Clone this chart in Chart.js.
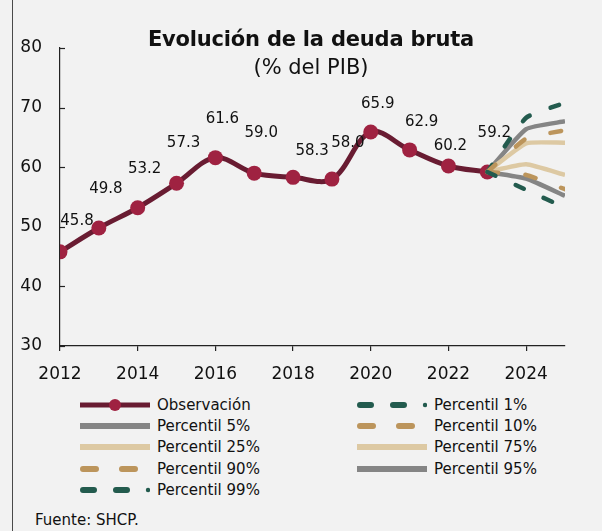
<!DOCTYPE html>
<html lang="es">
<head>
<meta charset="utf-8">
<script src="https://cdn.jsdelivr.net/npm/chart.js@4.4.1/dist/chart.umd.min.js"></script>
<style>
	body { margin: 0; background: #f2f2f2; }
	#wrap { position: relative; width: 602px; height: 531px; overflow: hidden; font-family: 'DejaVu Sans', sans-serif; color: #111; }
	#wrap canvas { position: absolute; left: 0; top: 0; }
	.frame { position: absolute; left: 12px; top: 0; width: 1px; height: 531px; background: #4a4a4a; }
	.title, .subtitle { position: absolute; left: 111px; width: 400px; text-align: center; white-space: nowrap; }
	.title { top: 27px; font-size: 21px; font-weight: bold; letter-spacing: -0.2px; }
	.subtitle { top: 55px; font-size: 21px; }
	#legend { position: absolute; left: 80px; top: 394px; display: grid; grid-template-columns: 277px 200px; grid-auto-rows: 21.4px; font-size: 15px; }
	.legend-item { display: flex; align-items: center; white-space: nowrap; }
	.legend-item svg { margin-right: 7px; flex: none; }
	.source { position: absolute; left: 35px; top: 511px; font-size: 15px; }
</style>
</head>
<body>
<div id="wrap">
	<div class="frame"></div>
	<canvas id="chart-deuda" width="602" height="392"></canvas>
	<div class="title">Evolución de la deuda bruta</div>
	<div class="subtitle">(% del PIB)</div>
	<div id="legend"></div>
	<div class="source">Fuente: SHCP.</div>
</div>
<script>
const years = [2012, 2013, 2014, 2015, 2016, 2017, 2018, 2019, 2020, 2021, 2022, 2023]
const observed = [45.8, 49.8, 53.2, 57.3, 61.6, 59.0, 58.3, 58.0, 65.9, 62.9, 60.2, 59.2]

const forecastYears = [2023, 2024, 2025]
const p1 = [59.2, 56.2, 53.2]
const p5 = [59.2, 58.1, 55.2]
const p10 = [59.2, 58.7, 56.3]
const p25 = [59.2, 60.5, 58.7]
const p75 = [59.2, 64.0, 64.1]
const p90 = [59.2, 64.8, 66.2]
const p95 = [59.2, 66.4, 67.7]
const p99 = [59.2, 68.3, 70.8]

const xTicks = [2012, 2014, 2016, 2018, 2020, 2022, 2024]
const yTicks = [30, 40, 50, 60, 70, 80]

// pixel nudges for the value labels (same as the hand-placed ones in the source)
const labelNudge = [
	[17, -31], [7, -39], [7, -39], [7, -40], [7, -39], [7, -40],
	[19, -26], [16, -36], [7, -28], [12, -28], [2, -20], [7, -39],
]

const FONT = "'DejaVu Sans', sans-serif"
const colors = {
	wine: '#691c32',
	wineDot: '#9f2241',
	green: '#235b4e',
	gold: '#bc955c',
	sand: '#ddc9a3',
	gray: '#858585',
}

const pts = (xs, ys) => xs.map((x, i) => ({ x, y: ys[i] }))

const band = (label, values, color, dash) => ({
	label,
	data: pts(forecastYears, values),
	borderColor: color,
	backgroundColor: color,
	borderWidth: 4.5,
	borderDash: dash || [],
	borderCapStyle: dash ? 'round' : 'butt',
	pointRadius: 0,
	tension: 0.15,
	order: dash ? 0 : 1,
})

const greenDash = [9, 22]
const goldDash = [11, 27]

const datasets = [
	{
		label: 'Observación',
		data: pts(years, observed),
		borderColor: colors.wine,
		borderWidth: 5,
		pointRadius: 7.5,
		pointBackgroundColor: colors.wineDot,
		pointBorderColor: colors.wineDot,
		pointBorderWidth: 0,
		tension: 0.35,
		order: 2,
	},
	band('Percentil 1%', p1, colors.green, greenDash),
	band('Percentil 5%', p5, colors.gray),
	band('Percentil 10%', p10, colors.gold, goldDash),
	band('Percentil 25%', p25, colors.sand),
	band('Percentil 75%', p75, colors.sand),
	band('Percentil 90%', p90, colors.gold, goldDash),
	band('Percentil 95%', p95, colors.gray),
	band('Percentil 99%', p99, colors.green, greenDash),
]

const pointLabels = {
	id: 'pointLabels',
	afterDatasetsDraw(chart) {
		const meta = chart.getDatasetMeta(0)
		const ctx = chart.ctx
		ctx.save()
		ctx.font = '15px ' + FONT
		ctx.fillStyle = '#111'
		ctx.textAlign = 'center'
		ctx.textBaseline = 'middle'
		meta.data.forEach((pt, i) => {
			const [dx, dy] = labelNudge[i]
			ctx.fillText(observed[i].toFixed(1), pt.x + dx, pt.y + dy)
		})
		ctx.restore()
	},
}

// y ticks in the source point into the plot
const innerTicks = {
	id: 'innerTicks',
	afterDraw(chart) {
		const y = chart.scales.y
		const ctx = chart.ctx
		ctx.save()
		ctx.strokeStyle = '#222'
		ctx.lineWidth = 1.2
		y.ticks.forEach((t) => {
			const py = Math.round(y.getPixelForValue(t.value)) + 0.5
			ctx.beginPath()
			ctx.moveTo(y.right, py)
			ctx.lineTo(y.right + 5, py)
			ctx.stroke()
		})
		ctx.restore()
	},
}

const chart = new Chart(document.getElementById('chart-deuda'), {
	type: 'line',
	data: { datasets },
	options: {
		responsive: false,
		animation: false,
		layout: { padding: { left: 14, right: 37, top: 48, bottom: 0 } },
		plugins: {
			legend: { display: false },
			tooltip: { enabled: false },
		},
		scales: {
			x: {
				type: 'linear',
				min: 2012,
				max: 2025,
				afterBuildTicks: (s) => {
					s.ticks = xTicks.map((value) => ({ value }))
				},
				afterFit: (s) => {
					s.height = 46
				},
				grid: { drawOnChartArea: false, tickLength: 5, color: '#222', lineWidth: 1.2 },
				border: { color: '#222', width: 1.2 },
				ticks: {
					color: '#111',
					font: { family: FONT, size: 17 },
					padding: 13,
					maxRotation: 0,
					autoSkip: false,
					callback: (v) => String(v),
				},
			},
			y: {
				min: 30,
				max: 80,
				afterBuildTicks: (s) => {
					s.ticks = yTicks.map((value) => ({ value }))
				},
				afterFit: (s) => {
					s.width = 46
				},
				grid: { drawOnChartArea: false, drawTicks: false },
				border: { color: '#222', width: 1.2 },
				ticks: {
					color: '#111',
					font: { family: FONT, size: 17 },
					padding: 18,
				},
			},
		},
	},
	plugins: [pointLabels, innerTicks],
})

function legendSample(ds) {
	const w = 70
	const h = 14
	const mid = h / 2
	let svg = `<svg width="${w}" height="${h}" viewBox="0 0 ${w} ${h}">`
	if (ds.borderDash && ds.borderDash.length) {
		const green = ds.borderColor === colors.green
		const dash = green ? '11 22' : '13 26'
		svg += `<line x1="3" y1="${mid}" x2="${green ? 56 : w - 2}" y2="${mid}" stroke="${ds.borderColor}" stroke-width="6" stroke-linecap="round" stroke-dasharray="${dash}"/>`
		if (green) svg += `<circle cx="${w - 2}" cy="${mid}" r="2.2" fill="${ds.borderColor}"/>`
	} else {
		svg += `<line x1="0" y1="${mid}" x2="${w}" y2="${mid}" stroke="${ds.borderColor}" stroke-width="${ds.pointRadius ? 5 : 6}" stroke-linecap="${ds.pointRadius ? 'round' : 'butt'}"/>`
	}
	if (ds.pointRadius) {
		svg += `<circle cx="${w / 2}" cy="${mid}" r="6" fill="${ds.pointBackgroundColor}"/>`
	}
	return svg + '</svg>'
}

document.getElementById('legend').innerHTML = chart.data.datasets
	.map((ds) => `<div class="legend-item">${legendSample(ds)}<span>${ds.label}</span></div>`)
	.join('')
</script>
</body>
</html>
